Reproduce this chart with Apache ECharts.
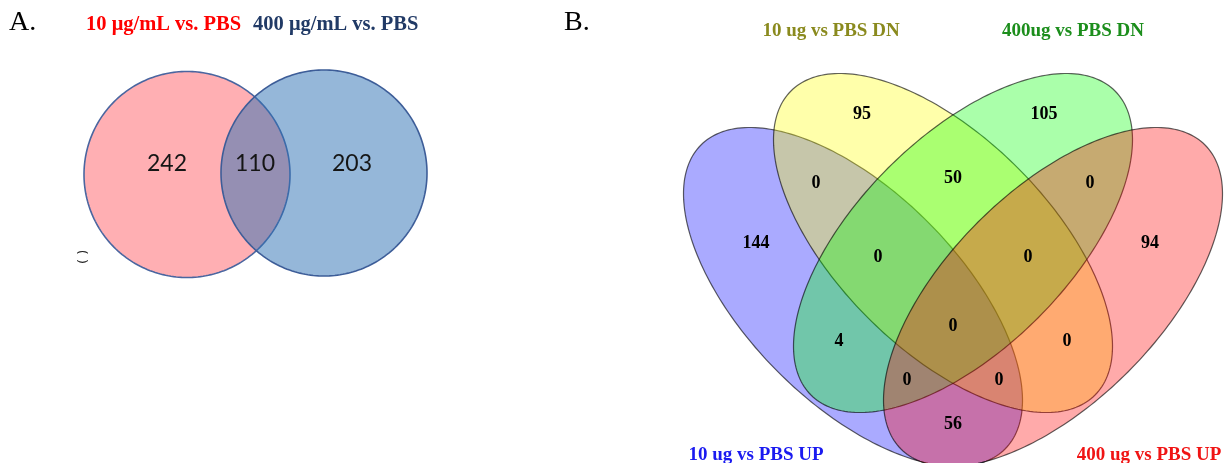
<!DOCTYPE html>
<html><head><meta charset="utf-8">
<script src="https://cdn.jsdelivr.net/npm/echarts@6/dist/echarts.min.js"></script>
<style>html,body{margin:0;padding:0;background:#fff}#chart{width:1225px;height:463px}</style>
</head><body><div id="chart"></div>
<script>
// ---------------- data ----------------
const setNamesA = ['10 μg/mL vs. PBS', '400 μg/mL vs. PBS'];
const regionNamesA = ['10 only', '10 & 400', '400 only'];
const countsA = [242, 110, 203];

const setNamesB = ['10 ug vs PBS UP', '10 ug vs PBS DN', '400ug vs PBS DN', '400 ug vs PBS UP'];
const regionNamesB = ['U10', 'D10', 'D400', 'U400',
  'U10&D10', 'D10&D400', 'D400&U400',
  'U10&D10&D400', 'D10&D400&U400',
  'U10&D400', 'D10&U400', 'ALL',
  'U10&D400&U400', 'U10&D10&U400', 'U10&U400'];
const countsB = [144, 95, 105, 94, 0, 50, 0, 0, 0, 4, 0, 0, 0, 0, 56];

// ---------------- layout (grid units) ----------------
// panel A: [cx, cy, rx, ry, rotationDeg]
const shapeLayoutA = [[127, 145.5, 103, 103, 0], [264, 147, 103, 103, 0]];
const labelLayoutA = [[107, 156], [195, 156], [292, 156]];
// panel B
const shapeLayoutB = [[180, 166, 215, 106, -45], [270, 220, 215, 106, -45],
                      [290, 220, 215, 106, 45], [380, 166, 215, 106, 45]];
const labelLayoutB = [[83, 220], [189, 349], [371, 349], [477, 220],
  [143, 280], [280, 285], [417, 280],
  [205, 206], [355, 206],
  [166, 122], [394, 122], [280, 137],
  [234, 83], [326, 83], [280, 39]];

// ---------------- styles ----------------
const fillA = ['#ffafb3', 'rgba(43,111,179,0.5)'];
const strokeA = ['#4a66a0', '#3d5d98'];
const fillB = ['rgba(0,0,255,0.335)', 'rgba(255,255,0,0.335)', 'rgba(0,255,0,0.335)', 'rgba(255,0,0,0.335)'];
const strokeB = 'rgba(0,0,0,0.62)';

function ellipseRenderer(fills, strokes, lw) {
  return function (params, api) {
    const cx = api.value(0), cy = api.value(1), a = api.value(2), b = api.value(3);
    const th = api.value(4) * Math.PI / 180;
    const pts = [];
    const N = 240;
    for (let k = 0; k < N; k++) {
      const t = k / N * 2 * Math.PI;
      const x = cx + a * Math.cos(t) * Math.cos(th) - b * Math.sin(t) * Math.sin(th);
      const y = cy + a * Math.cos(t) * Math.sin(th) + b * Math.sin(t) * Math.cos(th);
      pts.push(api.coord([x, y]));
    }
    const i = params.dataIndex;
    return {
      type: 'polygon', shape: { points: pts },
      style: { fill: fills[i], stroke: Array.isArray(strokes) ? strokes[i] : strokes, lineWidth: lw }
    };
  };
}
function labelRenderer(font, color) {
  return function (params, api) {
    const p = api.coord([api.value(0), api.value(1)]);
    return {
      type: 'text', x: p[0], y: p[1],
      style: { text: String(api.value(2)), font: font, fill: color, align: 'center', verticalAlign: 'middle' }
    };
  };
}

const chart = echarts.init(document.getElementById('chart'), null, { renderer: 'canvas' });
const hiddenAxis = { type: 'value', show: false, splitLine: { show: false } };

const option = {
  animation: false,
  backgroundColor: '#ffffff',
  grid: [
    { left: 60, top: 60, width: 400, height: 260, outerBoundsMode: 'none' },
    { left: 673, top: 63, width: 550, height: 400, outerBoundsMode: 'none' }
  ],
  xAxis: [
    Object.assign({ gridIndex: 0, min: 0, max: 400 }, hiddenAxis),
    Object.assign({ gridIndex: 1, min: 0, max: 550 }, hiddenAxis)
  ],
  yAxis: [
    Object.assign({ gridIndex: 0, min: 0, max: 260 }, hiddenAxis),
    Object.assign({ gridIndex: 1, min: 0, max: 400 }, hiddenAxis)
  ],
  series: [
    {
      type: 'custom', name: 'sets A', xAxisIndex: 0, yAxisIndex: 0, z: 2, clip: false,
      renderItem: ellipseRenderer(fillA, strokeA, 1.6),
      data: setNamesA.map((n, i) => ({ name: n, value: shapeLayoutA[i] }))
    },
    {
      type: 'custom', name: 'counts A', xAxisIndex: 0, yAxisIndex: 0, z: 5, clip: false,
      renderItem: labelRenderer('23px Lato', '#151515'),
      data: countsA.map((c, i) => ({ name: regionNamesA[i], value: [labelLayoutA[i][0], labelLayoutA[i][1], c] }))
    },
    {
      type: 'custom', name: 'sets B', xAxisIndex: 1, yAxisIndex: 1, z: 2, clip: false,
      renderItem: ellipseRenderer(fillB, strokeB, 1.2),
      data: setNamesB.map((n, i) => ({ name: n, value: shapeLayoutB[i] }))
    },
    {
      type: 'custom', name: 'counts B', xAxisIndex: 1, yAxisIndex: 1, z: 5, clip: false,
      renderItem: labelRenderer('bold 18px "Liberation Serif"', '#000000'),
      data: countsB.map((c, i) => ({ name: regionNamesB[i], value: [labelLayoutB[i][0], labelLayoutB[i][1], c] }))
    }
  ],
  graphic: [
    { type: 'text', x: 9, y: 23, style: { text: 'A.', font: '28px "Liberation Serif"', fill: '#000', align: 'left', verticalAlign: 'middle' } },
    { type: 'text', x: 86, y: 25, style: { text: setNamesA[0], font: 'bold 20.5px "Liberation Serif"', fill: '#ff0000', align: 'left', verticalAlign: 'middle' } },
    { type: 'text', x: 253, y: 25, style: { text: setNamesA[1], font: 'bold 20.5px "Liberation Serif"', fill: '#213a66', align: 'left', verticalAlign: 'middle' } },
    { type: 'text', x: 81, y: 257, rotation: -Math.PI / 2, style: { text: '( )', font: '13px "DejaVu Sans"', fill: '#222', align: 'center', verticalAlign: 'middle' } },
    { type: 'text', x: 564, y: 23, style: { text: 'B.', font: '28px "Liberation Serif"', fill: '#000', align: 'left', verticalAlign: 'middle' } },
    { type: 'text', x: 831, y: 31, style: { text: setNamesB[1], font: 'bold 19px "Liberation Serif"', fill: '#8a8a1e', align: 'center', verticalAlign: 'middle' } },
    { type: 'text', x: 1073, y: 31, style: { text: setNamesB[2], font: 'bold 19px "Liberation Serif"', fill: '#1c8e1c', align: 'center', verticalAlign: 'middle' } },
    { type: 'text', x: 756, y: 455, style: { text: setNamesB[0], font: 'bold 19px "Liberation Serif"', fill: '#1a1af0', align: 'center', verticalAlign: 'middle' } },
    { type: 'text', x: 1149, y: 455, style: { text: setNamesB[3], font: 'bold 19px "Liberation Serif"', fill: '#f01414', align: 'center', verticalAlign: 'middle' } }
  ]
};
chart.setOption(option);
</script></body></html>
